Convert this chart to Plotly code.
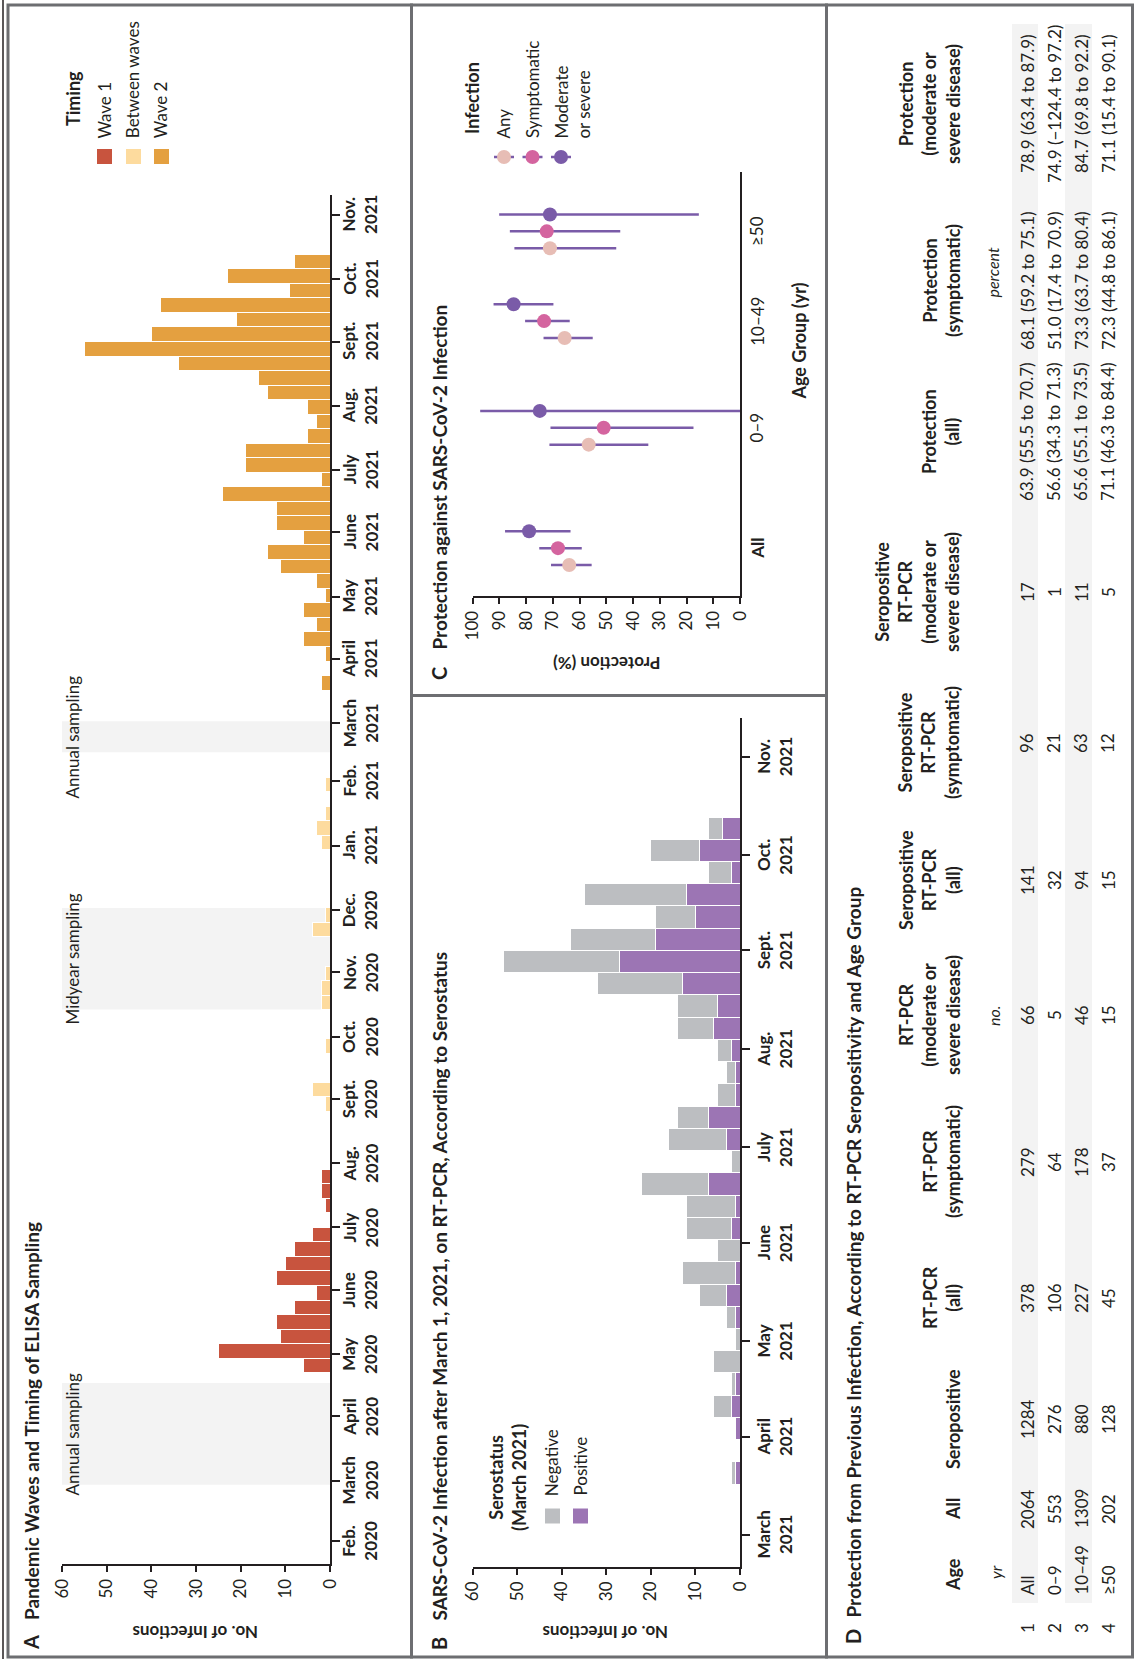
import plotly.graph_objects as go
import pandas as pd

W, H = 1135, 1659


def px(x):
    return x / W


def py(y):
    return 1 - y / H


# ------------------------------------------------------------------ DATA
# Panel A: weekly infections (week start dates) by pandemic period
wave1_weeks = ["2020-04-22", "2020-04-29", "2020-05-06", "2020-05-13", "2020-05-20",
               "2020-05-27", "2020-06-03", "2020-06-10", "2020-06-17", "2020-06-24",
               "2020-07-08", "2020-07-15", "2020-07-22"]
wave1_counts = [6, 25, 11, 12, 8, 3, 12, 10, 8, 4, 1, 2, 2]

between_weeks = ["2020-08-26", "2020-09-02", "2020-09-23", "2020-10-14", "2020-10-21",
                 "2020-10-28", "2020-11-18", "2020-11-25", "2020-12-30", "2021-01-06",
                 "2021-01-13", "2021-01-27"]
between_counts = [1, 4, 1, 2, 2, 1, 4, 1, 2, 3, 1, 1]

wave2_weeks = ["2021-03-17", "2021-03-31", "2021-04-07", "2021-04-14", "2021-04-21",
               "2021-04-28", "2021-05-05", "2021-05-12", "2021-05-19", "2021-05-26",
               "2021-06-02", "2021-06-09", "2021-06-16", "2021-06-23", "2021-06-30",
               "2021-07-07", "2021-07-14", "2021-07-21", "2021-07-28", "2021-08-04",
               "2021-08-11", "2021-08-18", "2021-08-25", "2021-09-01", "2021-09-08",
               "2021-09-15", "2021-09-22", "2021-09-29", "2021-10-06"]
wave2_counts = [2, 1, 6, 3, 6, 1, 3, 11, 14, 6, 12, 12, 24, 2, 19, 19, 5, 3, 5, 14,
                16, 34, 55, 40, 21, 38, 9, 23, 8]

# ELISA sampling periods
sampling_labels = ["Annual sampling", "Midyear sampling", "Annual sampling"]
sampling_start = ["2020-02-28", "2020-10-14", "2021-02-15"]
sampling_end = ["2020-04-17", "2020-12-02", "2021-03-02"]

# Panel B: infections after March 1, 2021, by serostatus
b_weeks = wave2_weeks
b_positive = [1, 1, 2, 1, 0, 0, 1, 3, 1, 0, 2, 1, 7, 0, 3, 7, 1, 1, 2, 6, 5, 13, 27,
              19, 10, 12, 2, 9, 4]
b_negative = [1, 0, 4, 1, 6, 1, 2, 6, 12, 5, 10, 11, 15, 2, 13, 7, 4, 2, 3, 8, 9, 19,
              26, 19, 9, 23, 5, 11, 3]

# Month tick labels (panels A and B)
a_month_labels = ["Feb.<br>2020", "March<br>2020", "April<br>2020", "May<br>2020",
                  "June<br>2020", "July<br>2020", "Aug.<br>2020", "Sept.<br>2020",
                  "Oct.<br>2020", "Nov.<br>2020", "Dec.<br>2020", "Jan.<br>2021",
                  "Feb.<br>2021", "March<br>2021", "April<br>2021", "May<br>2021",
                  "June<br>2021", "July<br>2021", "Aug.<br>2021", "Sept.<br>2021",
                  "Oct.<br>2021", "Nov.<br>2021"]
b_month_labels = a_month_labels[13:]

# Panel C / D: protection by age group
age_groups = ["All", "0–9", "10–49", "≥50"]
n_all = [2064, 553, 1309, 202]
n_seropositive = [1284, 276, 880, 128]
n_pcr_all = [378, 106, 227, 45]
n_pcr_sym = [279, 64, 178, 37]
n_pcr_mod = [66, 5, 46, 15]
n_sp_pcr_all = [141, 32, 94, 15]
n_sp_pcr_sym = [96, 21, 63, 12]
n_sp_pcr_mod = [17, 1, 11, 5]

prot_any = [63.9, 56.6, 65.6, 71.1]
prot_any_lo = [55.5, 34.3, 55.1, 46.3]
prot_any_hi = [70.7, 71.3, 73.5, 84.4]
prot_sym = [68.1, 51.0, 73.3, 72.3]
prot_sym_lo = [59.2, 17.4, 63.7, 44.8]
prot_sym_hi = [75.1, 70.9, 80.4, 86.1]
prot_mod = [78.9, 74.9, 84.7, 71.1]
prot_mod_lo = [63.4, -124.4, 69.8, 15.4]
prot_mod_hi = [87.9, 97.2, 92.2, 90.1]

# ------------------------------------------------------------------ STYLE
INK = "#231F20"
FONT = "Lato, 'Open Sans', sans-serif"
C_WAVE1 = "#C8543E"
C_BETWEEN = "#FDDB9E"
C_WAVE2 = "#E4A040"
C_NEG = "#BCBEC1"
C_POS = "#9C75B4"
C_ANY = "#E7BDB5"
C_SYM = "#D4649F"
C_MOD = "#7A5BA8"
BAND = "#F3F3F3"
FRAME = "#6D6E71"
WEEK_MS = 7 * 24 * 3600 * 1000

# layout positions for panel C categories (axis units)
GROUP_POS = [0.0, 1.14, 2.15, 3.0]
SHIFT = {"any": -0.16, "sym": 0.0, "mod": 0.16}

fig = go.Figure()

# ------------------------------------------------------------------ PANEL A
for weeks, counts, col in [(wave1_weeks, wave1_counts, C_WAVE1),
                           (between_weeks, between_counts, C_BETWEEN),
                           (wave2_weeks, wave2_counts, C_WAVE2)]:
    fig.add_trace(go.Bar(x=counts, y=pd.to_datetime(weeks), orientation="h",
                         width=WEEK_MS, offset=0,
                         marker=dict(color=col, line=dict(color="white", width=1)),
                         xaxis="x", yaxis="y", hoverinfo="x+y"))

# ------------------------------------------------------------------ PANEL B
fig.add_trace(go.Bar(x=b_positive, y=pd.to_datetime(b_weeks), orientation="h",
                     width=WEEK_MS, offset=0,
                     marker=dict(color=C_POS, line=dict(color="white", width=1)),
                     xaxis="x2", yaxis="y2", name="Positive"))
fig.add_trace(go.Bar(x=b_negative, y=pd.to_datetime(b_weeks), orientation="h",
                     width=WEEK_MS, offset=0,
                     marker=dict(color=C_NEG, line=dict(color="white", width=1)),
                     xaxis="x2", yaxis="y2", name="Negative"))

# ------------------------------------------------------------------ PANEL C
for key, vals, lo, hi, col in [("any", prot_any, prot_any_lo, prot_any_hi, C_ANY),
                               ("sym", prot_sym, prot_sym_lo, prot_sym_hi, C_SYM),
                               ("mod", prot_mod, prot_mod_lo, prot_mod_hi, C_MOD)]:
    fig.add_trace(go.Scatter(
        x=vals, y=[g + SHIFT[key] for g in GROUP_POS], mode="markers",
        marker=dict(color=col, size=14),
        error_x=dict(type="data", symmetric=False,
                     array=[h - v for v, h in zip(vals, hi)],
                     arrayminus=[v - l for v, l in zip(vals, lo)],
                     color=C_MOD, thickness=2.5, width=0),
        xaxis="x3", yaxis="y3"))

# ------------------------------------------------------------------ AXES
A_start = pd.Timestamp("2020-02-01") - pd.Timedelta(days=11.23)
A_end = pd.Timestamp("2020-02-01") + pd.Timedelta(days=648.86)
B_start = pd.Timestamp("2021-03-01") - pd.Timedelta(days=9.98)
B_end = pd.Timestamp("2021-03-01") + pd.Timedelta(days=257.07)
a_ticks = pd.date_range("2020-02-01", "2021-11-01", freq="MS")
b_ticks = pd.date_range("2021-03-01", "2021-11-01", freq="MS")

count_axis = dict(range=[60, 0], tickvals=list(range(0, 61, 10)), ticks="outside",
                  ticklen=6, tickwidth=2, tickcolor=INK, tickangle=-90,
                  tickfont=dict(family=FONT, size=17, color=INK), showline=True,
                  linewidth=2, linecolor=INK, showgrid=False, zeroline=False,
                  automargin=False)
date_axis = dict(type="date", side="right", ticks="outside", ticklen=8, tickwidth=2,
                 tickcolor=INK, showticklabels=False, showline=True, linewidth=2,
                 linecolor=INK, showgrid=False, zeroline=False, automargin=False)

fig.update_layout(
    xaxis=dict(domain=[px(62), px(330)], anchor="y", **count_axis),
    yaxis=dict(domain=[py(1564), py(194.5)], anchor="x", range=[A_start, A_end],
               tickvals=a_ticks, **date_axis),
    xaxis2=dict(domain=[px(472.7), px(740)], anchor="y2", **count_axis),
    yaxis2=dict(domain=[py(1566.7), py(718.3)], anchor="x2", range=[B_start, B_end],
                tickvals=b_ticks, **date_axis),
    xaxis3=dict(domain=[px(472.7), px(740)], anchor="y3", range=[100, 0],
                tickvals=list(range(0, 101, 10)), ticks="outside", ticklen=6,
                tickwidth=2, tickcolor=INK, tickangle=-90,
                tickfont=dict(family=FONT, size=17, color=INK), showline=True,
                linewidth=2, linecolor=INK, showgrid=False, zeroline=False,
                automargin=False),
    yaxis3=dict(domain=[py(596), py(171.9)], anchor="x3", side="right",
                range=[-0.453, 3.563], showticklabels=False, ticks="", showline=True,
                linewidth=2, linecolor=INK, showgrid=False, zeroline=False,
                automargin=False),
)

# ------------------------------------------------------------------ ANNOTATIONS
anns = []


def ann(text, x, y, size=17, bold=False, italic=False, angle=-90, xanchor="center",
        yanchor="middle", align="left", xref="paper", yref="paper", color=INK):
    anns.append(dict(
        text=text, x=px(x) if xref == "paper" else x,
        y=py(y) if yref == "paper" else y, xref=xref, yref=yref,
        showarrow=False, textangle=angle, xanchor=xanchor, yanchor=yanchor,
        align=align,
        font=dict(family=FONT, size=size, color=color, weight=700 if bold else 400,
                  style="italic" if italic else "normal")))


# panel letters & titles
ann("A", 31, 1643, size=20, bold=True)
ann("Pandemic Waves and Timing of ELISA Sampling", 31, 1622, size=19, bold=True,
    yanchor="bottom")
ann("B", 439, 1644, size=20, bold=True)
ann("SARS-CoV-2 Infection after March 1, 2021, on RT-PCR, According to Serostatus",
    439, 1623, size=19, bold=True, yanchor="bottom")
ann("C", 439, 674, size=20, bold=True)
ann("Protection against SARS-CoV-2 Infection", 439, 652, size=19, bold=True,
    yanchor="bottom")
ann("D", 853, 1637, size=20, bold=True)
ann("Protection from Previous Infection, According to RT-PCR Seropositivity and Age Group",
    853, 1620, size=19, bold=True, yanchor="bottom")

# axis titles
ann("No. of Infections", 196, 1633, size=17, bold=True, angle=180)
ann("No. of Infections", 606, 1633, size=17, bold=True, angle=180)
ann("Protection (%)", 606.7, 664, size=17, bold=True, angle=180)
ann("Age Group (yr)", 798, 341.5, size=18, bold=True)

# month labels (placed at the axis tick dates)
for d, lab in zip(a_ticks, a_month_labels):
    ann(lab, 360, d, size=17, bold=True, yref="y", align="center")
for d, lab in zip(b_ticks, b_month_labels):
    ann(lab, 774.5, d, size=17, bold=True, yref="y2", align="center")

# age-group labels (panel C)
for g, lab in zip(GROUP_POS, age_groups):
    ann(("<b>%s</b>" % lab) if lab == "All" else lab, 756.7, g, size=17, yref="y3")

# sampling band labels
for lab, s, e in zip(sampling_labels, sampling_start, sampling_end):
    mid = pd.Timestamp(s) + (pd.Timestamp(e) - pd.Timestamp(s)) / 2
    ann(lab, 72.7, mid, size=17, yref="y")

# legend A
ann("Timing", 73, 128.5, size=18, bold=True, yanchor="bottom")
for lab, xc in [("Wave 1", 104.7), ("Between waves", 133.3), ("Wave 2", 161.3)]:
    ann(lab, xc, 140.4, size=17, yanchor="bottom")
# legend B
ann("Serostatus<br>(March 2021)", 507, 1478, size=18, bold=True, align="center")
ann("Negative", 551.7, 1498, size=17, yanchor="bottom")
ann("Positive", 580, 1498, size=17, yanchor="bottom")
# legend C
ann("Infection", 471.7, 136.2, size=18, bold=True, yanchor="bottom")
ann("Any", 504, 140.6, size=17, yanchor="bottom")
ann("Symptomatic", 532.5, 140.6, size=17, yanchor="bottom")
ann("Moderate<br>or severe", 572.5, 140.6, size=17, yanchor="bottom", align="left")

# ------------------------------------------------------------------ TABLE (panel D)
ROW_X = [1027, 1054, 1081, 1108]
HDR_LAST_X = 953
HDR_STEP = 24


def fmt_ci(v, lo, hi):
    return ("%.1f (%.1f to %.1f)" % (v, lo, hi)).replace("-", "−")


columns = [
    ("Age", 1575, None),
    ("All", 1509, n_all),
    ("Seropositive", 1419, n_seropositive),
    ("RT-PCR<br>(all)", 1298, n_pcr_all),
    ("RT-PCR<br>(symptomatic)", 1162, n_pcr_sym),
    ("RT-PCR<br>(moderate or<br>severe disease)", 1015, n_pcr_mod),
    ("Seropositive<br>RT-PCR<br>(all)", 880, n_sp_pcr_all),
    ("Seropositive<br>RT-PCR<br>(symptomatic)", 743, n_sp_pcr_sym),
    ("Seropositive<br>RT-PCR<br>(moderate or<br>severe disease)", 592, n_sp_pcr_mod),
    ("Protection<br>(all)", 432,
     [fmt_ci(*t) for t in zip(prot_any, prot_any_lo, prot_any_hi)]),
    ("Protection<br>(symptomatic)", 281,
     [fmt_ci(*t) for t in zip(prot_sym, prot_sym_lo, prot_sym_hi)]),
    ("Protection<br>(moderate or<br>severe disease)", 104,
     [fmt_ci(*t) for t in zip(prot_mod, prot_mod_lo, prot_mod_hi)]),
]
for head, yc, vals in columns:
    nl = head.count("<br>") + 1
    ann(head, HDR_LAST_X - (nl - 1) * HDR_STEP / 2, yc, size=18, bold=True,
        align="center")
    if vals is not None:
        for xr, v in zip(ROW_X, vals):
            ann(str(v), xr, yc, size=17)
for xr, lab in zip(ROW_X, age_groups):
    ann(lab, xr, 1597, size=17, yanchor="bottom")
for i, xr in enumerate(ROW_X):
    ann(str(i + 1), xr, 1628, size=17)
ann("yr", 995, 1572, size=16, italic=True)
ann("no.", 993, 1016, size=16, italic=True)
ann("percent", 992, 272.5, size=16, italic=True)

# ------------------------------------------------------------------ SHAPES
shapes = []
for s, e in zip(sampling_start, sampling_end):
    shapes.append(dict(type="rect", xref="x", yref="y", x0=0, x1=60, y0=s, y1=e,
                       fillcolor=BAND, line=dict(width=0), layer="below"))
for x0, x1 in [(1012, 1038), (1065, 1092)]:
    shapes.append(dict(type="rect", xref="paper", yref="paper", x0=px(x0), x1=px(x1),
                       y0=py(1603), y1=py(24), fillcolor=BAND, line=dict(width=0),
                       layer="below"))
# legend swatches
for x0, col in [(97, C_WAVE1), (126, C_BETWEEN), (154, C_WAVE2)]:
    shapes.append(dict(type="rect", xref="paper", yref="paper", x0=px(x0),
                       x1=px(x0 + 15), y0=py(164), y1=py(149), fillcolor=col,
                       line=dict(width=0)))
for x0, col in [(545, C_NEG), (573, C_POS)]:
    shapes.append(dict(type="rect", xref="paper", yref="paper", x0=px(x0),
                       x1=px(x0 + 15), y0=py(1523.5), y1=py(1508.5), fillcolor=col,
                       line=dict(width=0)))
for xc, col in [(504, C_ANY), (532.5, C_SYM), (561, C_MOD)]:
    shapes.append(dict(type="line", xref="paper", yref="paper", x0=px(xc - 10),
                       x1=px(xc + 10), y0=py(157), y1=py(157),
                       line=dict(color=C_MOD, width=2.5)))
    shapes.append(dict(type="circle", xref="paper", yref="paper", x0=px(xc - 7),
                       x1=px(xc + 7), y0=py(164), y1=py(150), fillcolor=col,
                       line=dict(width=0)))
# panel frames
for x0, y0, x1, y1 in [(8, 5, 411.5, 1657), (411.5, 5, 826.5, 695.5),
                       (411.5, 695.5, 826.5, 1657), (826.5, 5, 1132.5, 1657)]:
    shapes.append(dict(type="rect", xref="paper", yref="paper", x0=px(x0), x1=px(x1),
                       y0=py(y1), y1=py(y0), line=dict(color=FRAME, width=3),
                       fillcolor="rgba(0,0,0,0)"))
shapes.append(dict(type="line", xref="paper", yref="paper", x0=px(3), x1=px(3),
                   y0=0, y1=1, line=dict(color=INK, width=1.5)))

# the figure fills the whole browser viewport (1135 x 1659); all positions above
# are expressed as fractions of that canvas
fig.update_layout(
    autosize=True, margin=dict(l=0, r=0, t=0, b=0, pad=0, autoexpand=False),
    showlegend=False, paper_bgcolor="white", plot_bgcolor="rgba(0,0,0,0)",
    barmode="stack", bargap=0, annotations=anns, shapes=shapes,
    font=dict(family=FONT, color=INK),
)

fig.write_html(
    "out.html",
    default_width="100vw",
    default_height="100vh",
    config={"staticPlot": True, "displayModeBar": False, "responsive": True},
    post_script=(
        "var s=document.documentElement.style;s.margin='0';s.padding='0';"
        "s.overflow='hidden';"
        "var b=document.body.style;b.margin='0';b.padding='0';b.overflow='hidden';"
        "var d=document.getElementById('{plot_id}');"
        "d.style.position='fixed';d.style.left='0px';d.style.top='0px';"
        "d.style.width='100vw';d.style.height='100vh';"
        "Plotly.Plots.resize(d);"
    ),
)
